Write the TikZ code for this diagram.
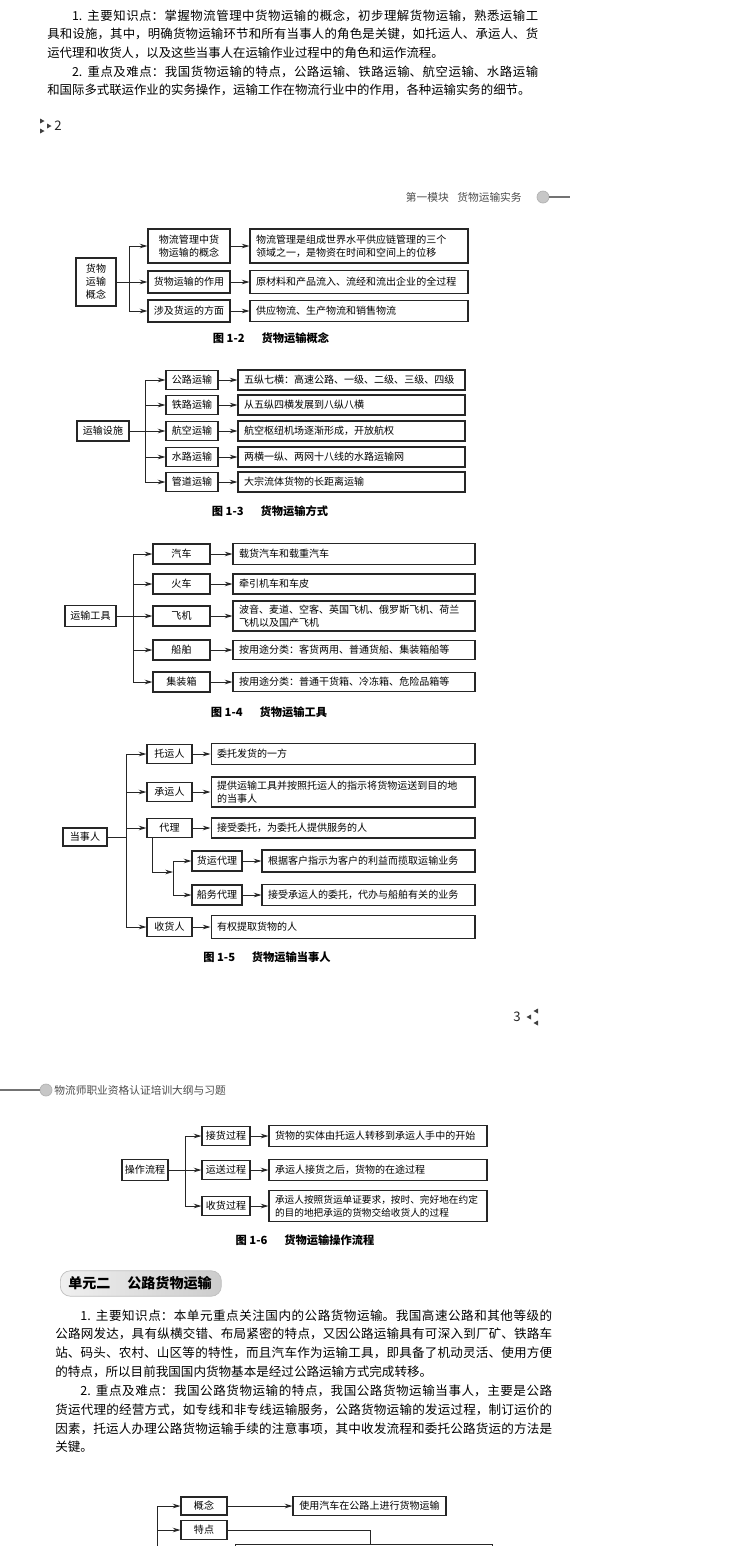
\documentclass[tikz,border=0pt]{standalone}
\usepackage{fontspec}
\setmainfont{Noto Sans CJK SC}
\usetikzlibrary{arrows.meta}
\XeTeXlinebreaklocale "zh"
\XeTeXlinebreakskip = 0pt plus 1pt
\setlength\parindent{0pt}

\newcommand\boxfont{\fontsize{5.7}{7.4}\selectfont}
\newcommand\bodyfont{\fontsize{7.05}{10.67}\selectfont}
\newcommand\bodyfontb{\fontsize{7.15}{10.73}\selectfont}
\newcommand\capfont{\fontsize{6.4}{7.5}\selectfont\bfseries}
\newcommand\headfont{\fontsize{6.1}{7}\selectfont}

\begin{document}
\begin{tikzpicture}[x=0.02cm, y=-0.02cm, >={Stealth[length=4.4pt,width=2.6pt]},
  box/.style={draw=black!85, line width=0.6pt, inner sep=0pt, font=\boxfont, align=center},
  desc/.style={box, align=left, inner xsep=0.12cm},
  wire/.style={black!85, line width=0.55pt},
  figcap/.style={font=\capfont},
  body/.style={anchor=base west, inner sep=0pt, align=justify},
  pgnum/.style={font=\fontsize{7.5}{8}\selectfont, text=black!85, inner sep=0pt},
  dot/.style={circle, fill=black!22, draw=black!30, inner sep=0pt, minimum size=0.24cm},
  unit/.style={rounded corners=0.2cm, left color=black!6, right color=black!20, draw=black!25,
    minimum width=3.22cm, minimum height=0.42cm, text width=2.9cm, inner xsep=0.16cm,
    align=left, font=\fontsize{8}{9}\selectfont\bfseries}]

\useasboundingbox (0,0) rectangle (750,1546);
\fill[white] (0,0) rectangle (750,1546);
\clip (0,0) rectangle (750,1546);

% ---------- end of page 2 ----------
\node[body, text width=9.82cm, font=\bodyfont] (txt1) at (47,20) {\hspace*{2em}1. 主要知识点：掌握物流管理中货物运输的概念，初步理解货物运输，熟悉运输工\linebreak
具和设施，其中，明确货物运输环节和所有当事人的角色是关键，如托运人、承运人、货\linebreak
运代理和收货人，以及这些当事人在运输作业过程中的角色和运作流程。\par
\hspace*{2em}2. 重点及难点：我国货物运输的特点，公路运输、铁路运输、航空运输、水路运输\linebreak
和国际多式联运作业的实务操作，运输工作在物流行业中的作用，各种运输实务的细节。};
\node[pgnum] (pg2) at (58,126) {2};
\fill[black!75] (40,118.5) -- (44.5,121) -- (40,123.5) -- cycle;
\fill[black!75] (40,128.5) -- (44.5,131) -- (40,133.5) -- cycle;
\fill[black!75] (47,123.5) -- (51.5,126) -- (47,128.5) -- cycle;

% ---------- page 3 header ----------
\node[anchor=east, font=\headfont, text=black!70, inner sep=0pt] (hd1) at (522,197) {第一模块\hspace{0.8em}货物运输实务};
\node[dot] (c1) at (543,197) {};
\coordinate (e1) at (570,197);
\draw[black!55, line width=0.6pt] (c1) -- (e1);

% ---------- Fig 1-2 ----------
\node[box, minimum width=0.8cm, minimum height=0.96cm] (r2) at (96,282) {货物\\运输\\概念};
\coordinate (t2) at (129,282);
\node[box, minimum width=1.64cm, minimum height=0.68cm] (m21) at (189,246) {物流管理中货\\物运输的概念};
\node[box, minimum width=1.64cm, minimum height=0.44cm] (m22) at (189,282) {货物运输的作用};
\node[box, minimum width=1.64cm, minimum height=0.44cm] (m23) at (189,311) {涉及货运的方面};
\node[desc, text width=4.12cm, minimum height=0.68cm] (d21) at (359,246) {物流管理是组成世界水平供应链管理的三个\\领域之一，是物资在时间和空间上的位移};
\node[desc, text width=4.12cm, minimum height=0.46cm] (d22) at (359,282) {原材料和产品流入、流经和流出企业的全过程};
\node[desc, text width=4.12cm, minimum height=0.42cm] (d23) at (359,311) {供应物流、生产物流和销售物流};
\draw[wire] (r2) -- (t2);
\draw[wire,->] (t2) |- (m21);
\draw[wire,->] (t2) -- (m22);
\draw[wire,->] (t2) |- (m23);
\draw[wire,->] (m21) -- (d21);
\draw[wire,->] (m22) -- (d22);
\draw[wire,->] (m23) -- (d23);
\node[figcap] (cap2) at (271,338) {图 1-2\hspace{1.5em}货物运输概念};

% ---------- Fig 1-3 ----------
\node[box, minimum width=1.04cm, minimum height=0.40cm] (r3) at (103,431) {运输设施};
\coordinate (t3) at (145,431);
\node[box, minimum width=1.04cm, minimum height=0.38cm] (m31) at (192,380) {公路运输};
\node[box, minimum width=1.04cm, minimum height=0.38cm] (m32) at (192,405) {铁路运输};
\node[box, minimum width=1.04cm, minimum height=0.38cm] (m33) at (192,431) {航空运输};
\node[box, minimum width=1.04cm, minimum height=0.38cm] (m34) at (192,457) {水路运输};
\node[box, minimum width=1.04cm, minimum height=0.38cm] (m35) at (192,482) {管道运输};
\node[desc, text width=4.30cm, minimum height=0.40cm] (d31) at (351.5,380) {五纵七横：高速公路、一级、二级、三级、四级};
\node[desc, text width=4.30cm, minimum height=0.40cm] (d32) at (351.5,405) {从五纵四横发展到八纵八横};
\node[desc, text width=4.30cm, minimum height=0.40cm] (d33) at (351.5,431) {航空枢纽机场逐渐形成，开放航权};
\node[desc, text width=4.30cm, minimum height=0.40cm] (d34) at (351.5,457) {两横一纵、两网十八线的水路运输网};
\node[desc, text width=4.30cm, minimum height=0.40cm] (d35) at (351.5,482) {大宗流体货物的长距离运输};
\draw[wire] (r3) -- (t3);
\draw[wire,->] (t3) |- (m31);
\draw[wire,->] (t3) |- (m32);
\draw[wire,->] (t3) -- (m33);
\draw[wire,->] (t3) |- (m34);
\draw[wire,->] (t3) |- (m35);
\draw[wire,->] (m31) -- (d31);
\draw[wire,->] (m32) -- (d32);
\draw[wire,->] (m33) -- (d33);
\draw[wire,->] (m34) -- (d34);
\draw[wire,->] (m35) -- (d35);
\node[figcap] (cap3) at (270,511) {图 1-3\hspace{1.5em}货物运输方式};

% ---------- Fig 1-4 ----------
\node[box, minimum width=1.02cm, minimum height=0.42cm] (r4) at (90.5,616) {运输工具};
\coordinate (t4) at (133,616);
\node[box, minimum width=1.14cm, minimum height=0.40cm] (m41) at (181.5,554) {汽车};
\node[box, minimum width=1.14cm, minimum height=0.40cm] (m42) at (181.5,584) {火车};
\node[box, minimum width=1.14cm, minimum height=0.40cm] (m43) at (181.5,616) {飞机};
\node[box, minimum width=1.14cm, minimum height=0.40cm] (m44) at (181.5,650) {船舶};
\node[box, minimum width=1.14cm, minimum height=0.40cm] (m45) at (181.5,682) {集装箱};
\node[desc, text width=4.60cm, minimum height=0.42cm] (d41) at (354,554) {载货汽车和载重汽车};
\node[desc, text width=4.60cm, minimum height=0.40cm] (d42) at (354,584) {牵引机车和车皮};
\node[desc, text width=4.60cm, minimum height=0.60cm] (d43) at (354,616) {波音、麦道、空客、英国飞机、俄罗斯飞机、荷兰\\飞机以及国产飞机};
\node[desc, text width=4.60cm, minimum height=0.38cm] (d44) at (354,650) {按用途分类：客货两用、普通货船、集装箱船等};
\node[desc, text width=4.60cm, minimum height=0.38cm] (d45) at (354,682) {按用途分类：普通干货箱、冷冻箱、危险品箱等};
\draw[wire] (r4) -- (t4);
\draw[wire,->] (t4) |- (m41);
\draw[wire,->] (t4) |- (m42);
\draw[wire,->] (t4) -- (m43);
\draw[wire,->] (t4) |- (m44);
\draw[wire,->] (t4) |- (m45);
\draw[wire,->] (m41) -- (d41);
\draw[wire,->] (m42) -- (d42);
\draw[wire,->] (m43) -- (d43);
\draw[wire,->] (m44) -- (d44);
\draw[wire,->] (m45) -- (d45);
\node[figcap] (cap4) at (269,712) {图 1-4\hspace{1.5em}货物运输工具};

% ---------- Fig 1-5 ----------
\node[box, minimum width=0.88cm, minimum height=0.36cm] (r5) at (85,837) {当事人};
\coordinate (t5) at (126,837);
\node[box, minimum width=0.90cm, minimum height=0.38cm] (m51) at (169.5,754) {托运人};
\node[box, minimum width=0.90cm, minimum height=0.38cm] (m52) at (169.5,792) {承运人};
\node[box, minimum width=0.90cm, minimum height=0.38cm] (m53) at (169.5,828) {代理};
\node[box, minimum width=0.90cm, minimum height=0.38cm] (m54) at (169.5,927) {收货人};
\node[desc, text width=5.04cm, minimum height=0.42cm] (d51) at (343,754) {委托发货的一方};
\node[desc, text width=5.04cm, minimum height=0.60cm] (d52) at (343,792) {提供运输工具并按照托运人的指示将货物运送到目的地\\的当事人};
\node[desc, text width=5.04cm, minimum height=0.40cm] (d53) at (343,828) {接受委托，为委托人提供服务的人};
\node[desc, text width=5.04cm, minimum height=0.46cm] (d54) at (343,927) {有权提取货物的人};
\coordinate (k5) at (152,872);
\coordinate (s5) at (173,872);
\node[box, minimum width=1.00cm, minimum height=0.40cm] (h51) at (217,861) {货运代理};
\node[box, minimum width=1.00cm, minimum height=0.40cm] (h52) at (217,895) {船务代理};
\node[desc, text width=4.02cm, minimum height=0.44cm] (e51) at (368.5,861) {根据客户指示为客户的利益而揽取运输业务};
\node[desc, text width=4.02cm, minimum height=0.42cm] (e52) at (368.5,895) {接受承运人的委托，代办与船舶有关的业务};
\draw[wire] (r5) -- (t5);
\draw[wire,->] (t5) |- (m51);
\draw[wire,->] (t5) |- (m52);
\draw[wire,->] (t5) |- (m53);
\draw[wire,->] (t5) |- (m54);
\draw[wire,->] (m51) -- (d51);
\draw[wire,->] (m52) -- (d52);
\draw[wire,->] (m53) -- (d53);
\draw[wire,->] (m54) -- (d54);
\draw[wire,->] (m53.south -| k5) -- (k5) -- (s5);
\draw[wire,->] (s5) |- (h51);
\draw[wire,->] (s5) |- (h52);
\draw[wire,->] (h51) -- (e51);
\draw[wire,->] (h52) -- (e52);
\node[figcap] (cap5) at (267,957) {图 1-5\hspace{1.5em}货物运输当事人};

\node[pgnum] (pg3) at (517,1017) {3};
\fill[black!75] (531,1014.5) -- (526.5,1017) -- (531,1019.5) -- cycle;
\fill[black!75] (538,1008.5) -- (533.5,1011) -- (538,1013.5) -- cycle;
\fill[black!75] (538,1020.5) -- (533.5,1023) -- (538,1025.5) -- cycle;

% ---------- page 4 header ----------
\coordinate (e2) at (0,1090);
\node[dot] (c2) at (46,1090) {};
\draw[black!55, line width=0.6pt] (e2) -- (c2);
\node[anchor=west, font=\headfont, text=black!70, inner sep=0pt] (hd2) at (54,1090) {物流师职业资格认证培训大纲与习题};

% ---------- Fig 1-6 ----------
\node[box, minimum width=0.92cm, minimum height=0.42cm] (r6) at (145,1170) {操作流程};
\coordinate (t6) at (185,1170);
\node[box, minimum width=0.96cm, minimum height=0.38cm] (m61) at (226,1136) {接货过程};
\node[box, minimum width=0.96cm, minimum height=0.38cm] (m62) at (226,1170) {运送过程};
\node[box, minimum width=0.96cm, minimum height=0.38cm] (m63) at (226,1206) {收货过程};
\node[desc, text width=4.12cm, minimum height=0.42cm] (d61) at (378,1136) {货物的实体由托运人转移到承运人手中的开始};
\node[desc, text width=4.12cm, minimum height=0.42cm] (d62) at (378,1170) {承运人接货之后，货物的在途过程};
\node[desc, text width=4.12cm, minimum height=0.62cm, font=\fontsize{5.5}{7.4}\selectfont] (d63) at (378,1206) {承运人按照货运单证要求，按时、完好地在约定\\的目的地把承运的货物交给收货人的过程};
\draw[wire] (r6) -- (t6);
\draw[wire,->] (t6) |- (m61);
\draw[wire,->] (t6) -- (m62);
\draw[wire,->] (t6) |- (m63);
\draw[wire,->] (m61) -- (d61);
\draw[wire,->] (m62) -- (d62);
\draw[wire,->] (m63) -- (d63);
\node[figcap] (cap6) at (305,1240) {图 1-6\hspace{1.5em}货物运输操作流程};

% ---------- unit 2 ----------
\node[unit, anchor=west] (u2) at (60,1283.5) {单元二\hspace{1.2em}公路货物运输};
\node[body, text width=9.94cm, font=\bodyfontb] (txt2) at (55,1320) {\hspace*{2em}1. 主要知识点：本单元重点关注国内的公路货物运输。我国高速公路和其他等级的\linebreak
公路网发达，具有纵横交错、布局紧密的特点，又因公路运输具有可深入到厂矿、铁路车\linebreak
站、码头、农村、山区等的特性，而且汽车作为运输工具，即具备了机动灵活、使用方便\linebreak
的特点，所以目前我国国内货物基本是经过公路运输方式完成转移。\par
\hspace*{2em}2. 重点及难点：我国公路货物运输的特点，我国公路货物运输当事人，主要是公路\linebreak
货运代理的经营方式，如专线和非专线运输服务，公路货物运输的发运过程，制订运价的\linebreak
因素，托运人办理公路货物运输手续的注意事项，其中收发流程和委托公路货运的方法是\linebreak
关键。};

% ---------- road freight chart (cut at page edge) ----------
\coordinate (t7) at (157,1506);
\coordinate (t7e) at (157,1570);
\node[box, minimum width=0.92cm, minimum height=0.36cm] (b1) at (204,1506) {概念};
\node[box, minimum width=0.92cm, minimum height=0.38cm] (b2) at (204,1530) {特点};
\node[box, minimum width=3.06cm, minimum height=0.38cm] (bd1) at (369.5,1506) {使用汽车在公路上进行货物运输};
\node[box, anchor=north west, minimum width=5.14cm, minimum height=1cm] (bx7) at (235,1544) {};
\coordinate (k7) at (370,1544);
\draw[wire] (t7) -- (t7e);
\draw[wire,->] (t7) -- (b1);
\draw[wire,->] (b2 -| t7) -- (b2);
\draw[wire,->] (b1) -- (bd1);
\draw[wire] (b2) -| (k7);

\end{tikzpicture}
\end{document}
